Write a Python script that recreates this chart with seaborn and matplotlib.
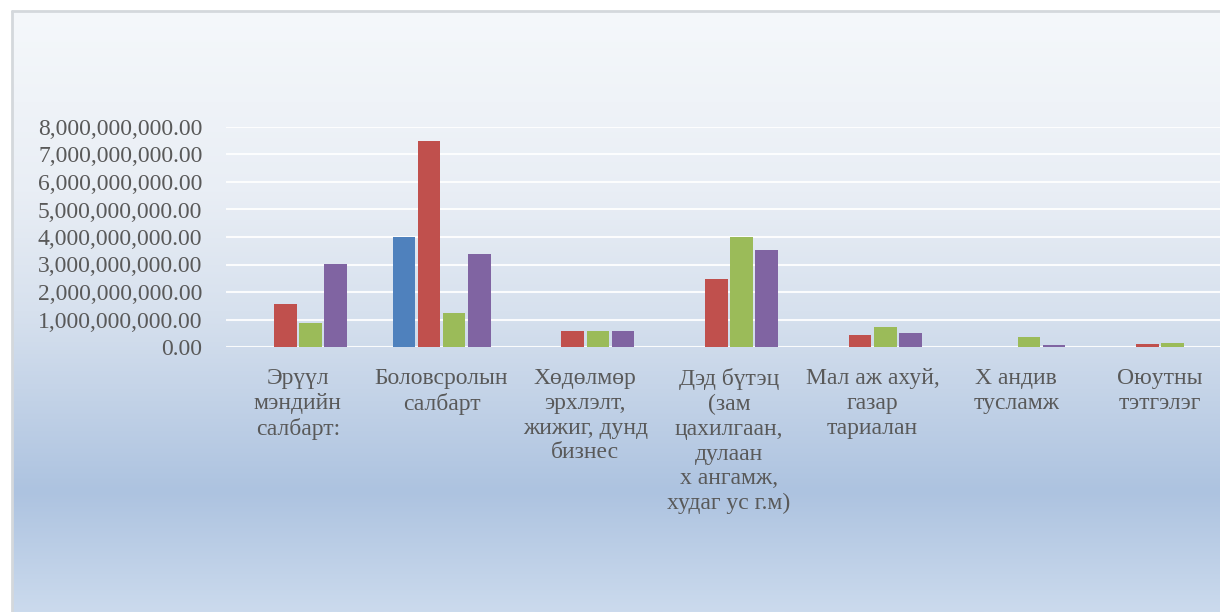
import numpy as np
import pandas as pd
import matplotlib
matplotlib.use("Agg")
import matplotlib.pyplot as plt
import seaborn as sns
from matplotlib.colors import LinearSegmentedColormap
from matplotlib.ticker import FuncFormatter

# data
categories = [
    "Эрүүл\nмэндийн\nсалбарт:",
    "Боловсролын\nсалбарт",
    "Хөдөлмөр\nэрхлэлт,\nжижиг, дунд\nбизнес",
    "Дэд бүтэц\n(зам\nцахилгаан,\nдулаан\nх ангамж,\nхудаг ус г.м)",
    "Мал аж ахуй,\nгазар\nтариалан",
    "Х андив\nтусламж",
    "Оюутны\nтэтгэлэг",
]
series_names = ["1", "2", "3", "4"]
blue = [0, 4.01e9, 0, 0, 0, 0, 0]
red = [1.56e9, 7.50e9, 0.59e9, 2.47e9, 0.45e9, 0, 0.10e9]
green = [0.88e9, 1.22e9, 0.59e9, 4.01e9, 0.72e9, 0.38e9, 0.16e9]
purple = [3.02e9, 3.38e9, 0.59e9, 3.52e9, 0.51e9, 0.07e9, 0]
colors = ["#4f81bd", "#c0504d", "#9bbb59", "#8064a2"]

rows = []
for name, vals in zip(series_names, [blue, red, green, purple]):
    for cat, v in zip(categories, vals):
        rows.append({"category": cat, "series": name, "value": v})
df = pd.DataFrame(rows)

sns.set_style("white")
plt.rcParams["font.family"] = ["Liberation Serif", "DejaVu Serif"]

W, H = 1220, 612
fig = plt.figure(figsize=(W / 100, H / 100), dpi=100)
fig.patch.set_facecolor("white")

# chart area with vertical gradient
bg = fig.add_axes([12 / W, 0, 1 - 12 / W, (H - 11) / H])
grad_cmap = LinearSegmentedColormap.from_list(
    "bg",
    [(0.0, "#f5f8fb"), (0.30, "#e9eef5"), (0.50, "#d7e1ee"),
     (0.80, "#adc3e0"), (1.0, "#cbdaed")],
)
bg.imshow(np.linspace(0, 1, 256).reshape(-1, 1), aspect="auto",
          cmap=grad_cmap, extent=[0, 1, 1, 0])
bg.set_xlim(0, 1)
bg.set_ylim(1, 0)
bg.axis("off")
bg.plot([0, 0], [0, 1], color="#d4d8dc", lw=2, transform=bg.transAxes, clip_on=False)
bg.plot([0, 1], [1, 1], color="#d4d8dc", lw=2, transform=bg.transAxes, clip_on=False)

# plot area
left = 226 / W
bottom = (H - 347) / H
ax = fig.add_axes([left, bottom, 7 * 143.7 / W, 220 / H])
ax.set_facecolor("none")

sns.barplot(data=df, x="category", y="value", hue="series", palette=colors,
            width=0.7, gap=0.1, ax=ax, legend=False, saturation=1,
            linewidth=0, zorder=3)

ax.set_ylim(0, 8e9)
ax.set_yticks(np.arange(0, 8.1e9, 1e9))
ax.yaxis.set_major_formatter(FuncFormatter(lambda v, p: f"{v:,.2f}"))
ax.grid(axis="y", color="white", lw=1.5, alpha=0.9, zorder=0)
ax.set_axisbelow(True)
for s in ax.spines.values():
    s.set_visible(False)
ax.set_xlabel("")
ax.set_ylabel("")
ax.tick_params(axis="both", length=0, colors="#595959", labelsize=17)
ax.tick_params(axis="y", pad=17)
ax.tick_params(axis="x", pad=15)
for lab in ax.get_xticklabels():
    lab.set_linespacing(1.24)
    lab.set_ha("center")

fig.savefig("out.png", dpi=100)
